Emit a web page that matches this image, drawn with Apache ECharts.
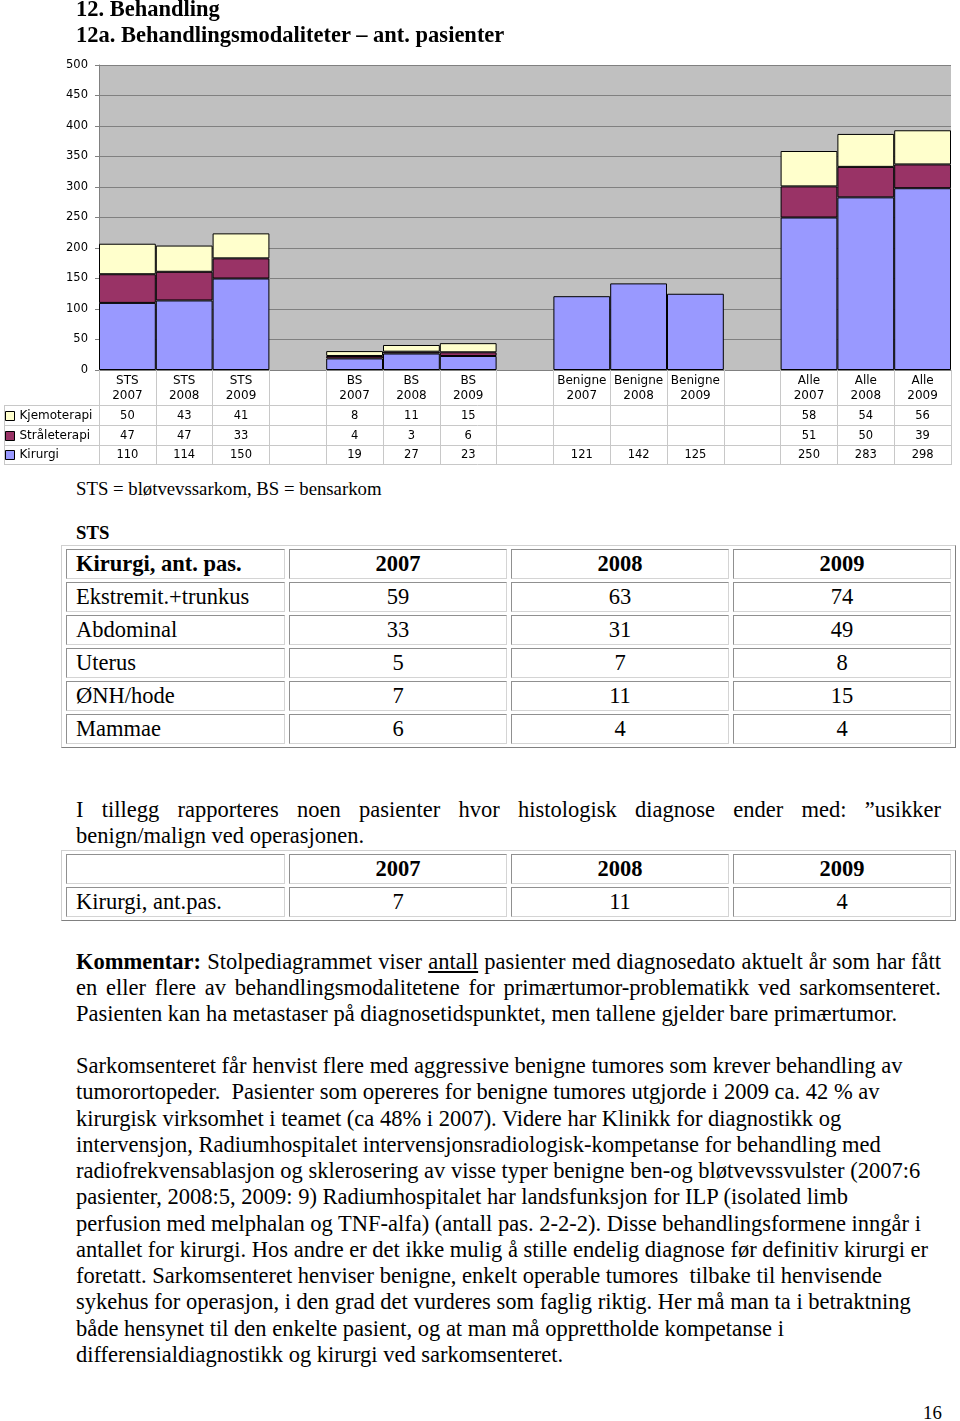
<!DOCTYPE html>
<html><head><meta charset="utf-8">
<script src="https://cdn.jsdelivr.net/npm/echarts@6/dist/echarts.min.js"></script>
<style>
html,body{margin:0;padding:0;background:#fff;}
#page{position:relative;width:960px;height:1421px;overflow:hidden;font-family:"Liberation Serif","Times New Roman",serif;color:#000;}
#chart{position:absolute;left:0;top:0;width:960px;height:470px;}
.t{position:absolute;left:76px;font-size:22.5px;line-height:26px;white-space:pre;}
.j{width:865px;text-align:justify;text-align-last:justify;white-space:normal;}
.s{position:absolute;left:76px;font-size:18.75px;line-height:22px;white-space:pre;}
.b{font-weight:bold;}
table.w{position:absolute;left:61px;width:895px;table-layout:fixed;border-collapse:separate;border-spacing:4px 3px;border:1px solid;border-color:#d0d0d0 #808080 #808080 #d0d0d0;font-size:22.5px;}
table.w td{border:1px solid;border-color:#909090 #d4d4d4 #d4d4d4 #909090;padding:0;text-align:center;vertical-align:middle;white-space:nowrap;}
table.w td.l{text-align:left;padding-left:9px;}
table.w tr{height:30px;}
.p2{line-height:26.27px;}
</style>
</head>
<body>
<div id="page">
  <div id="chart"></div>
  <div class="t b" style="top:-4px">12. Behandling</div>
  <div class="t b" style="top:22px">12a. Behandlingsmodaliteter – ant. pasienter</div>
  <div class="s" style="top:478px">STS = bløtvevssarkom, BS = bensarkom</div>
  <div class="s b" style="top:522px">STS</div>
  <table class="w" id="tab1" style="top:545px"><colgroup><col style="width:219px"><col style="width:218px"><col style="width:218px"><col style="width:218px"></colgroup><tbody></tbody></table>
  <div class="t j" style="top:797px">I tillegg rapporteres noen pasienter hvor histologisk diagnose ender med: ”usikker</div>
  <div class="t" style="top:823px">benign/malign ved operasjonen.</div>
  <table class="w" id="tab2" style="top:850px"><colgroup><col style="width:219px"><col style="width:218px"><col style="width:218px"><col style="width:218px"></colgroup><tbody></tbody></table>
  <div class="t j" style="top:949px"><b>Kommentar:</b> Stolpediagrammet viser <u>antall</u> pasienter med diagnosedato aktuelt år som har fått</div>
  <div class="t j" style="top:975px">en eller flere av behandlingsmodalitetene for primærtumor-problematikk ved sarkomsenteret.</div>
  <div class="t" style="top:1001px">Pasienten kan ha metastaser på diagnosetidspunktet, men tallene gjelder bare primærtumor.</div>
  <div class="t p2" style="top:1053px">Sarkomsenteret får henvist flere med aggressive benigne tumores som krever behandling av
tumorortopeder.  Pasienter som opereres for benigne tumores utgjorde i 2009 ca. 42 % av
kirurgisk virksomhet i teamet (ca 48% i 2007). Videre har Klinikk for diagnostikk og
intervensjon, Radiumhospitalet intervensjonsradiologisk-kompetanse for behandling med
radiofrekvensablasjon og sklerosering av visse typer benigne ben-og bløtvevssvulster (2007:6
pasienter, 2008:5, 2009: 9) Radiumhospitalet har landsfunksjon for ILP (isolated limb
perfusion med melphalan og TNF-alfa) (antall pas. 2-2-2). Disse behandlingsformene inngår i
antallet for kirurgi. Hos andre er det ikke mulig å stille endelig diagnose før definitiv kirurgi er
foretatt. Sarkomsenteret henviser benigne, enkelt operable tumores  tilbake til henvisende
sykehus for operasjon, i den grad det vurderes som faglig riktig. Her må man ta i betraktning
både hensynet til den enkelte pasient, og at man må opprettholde kompetanse i
differensialdiagnostikk og kirurgi ved sarkomsenteret.</div>
  <div class="s" style="top:1402px;left:923px">16</div>
</div>
<script>
// ---- chart data ----
const categories = ['STS\n2007','STS\n2008','STS\n2009','','BS\n2007','BS\n2008','BS\n2009','','Benigne\n2007','Benigne\n2008','Benigne\n2009','','Alle\n2007','Alle\n2008','Alle\n2009'];
const seriesNames = ['Kjemoterapi','Stråleterapi','Kirurgi'];
const kjemoterapi   = [50, 43, 41, null, 8, 11, 15, null, null, null, null, null, 58, 54, 56];
const straaleterapi = [47, 47, 33, null, 4, 3, 6, null, null, null, null, null, 51, 50, 39];
const kirurgi       = [110, 114, 150, null, 19, 27, 23, null, 121, 142, 125, null, 250, 283, 298];
const yMin = 0, yMax = 500, yStep = 50;

// ---- table data ----
const tableYears = ['2007','2008','2009'];
const stsHeader = 'Kirurgi, ant. pas.';
const stsRowLabels = ['Ekstremit.+trunkus','Abdominal','Uterus','ØNH/hode','Mammae'];
const stsEkstremit = [59, 63, 74];
const stsAbdominal = [33, 31, 49];
const stsUterus = [5, 7, 8];
const stsOenh = [7, 11, 15];
const stsMammae = [6, 4, 4];
const usikkerLabel = 'Kirurgi, ant.pas.';
const usikkerValues = [7, 11, 4];

function buildTable(id, header, labels, rows) {
  const tb = document.querySelector('#' + id + ' tbody');
  let h = '<tr><td class="l b">' + header + '</td>' + tableYears.map(y => '<td class="b">' + y + '</td>').join('') + '</tr>';
  labels.forEach((lab, i) => {
    h += '<tr><td class="l">' + lab + '</td>' + rows[i].map(v => '<td>' + v + '</td>').join('') + '</tr>';
  });
  tb.innerHTML = h;
}
buildTable('tab1', stsHeader, stsRowLabels, [stsEkstremit, stsAbdominal, stsUterus, stsOenh, stsMammae]);
buildTable('tab2', '', [usikkerLabel], [usikkerValues]);

// ---- chart ----
const FONT = 'DejaVu Sans';
const colors = {Kjemoterapi:'#FFFFCC', 'Stråleterapi':'#993366', Kirurgi:'#9999FF'};
const fmt = arr => arr.map(v => v == null ? '' : String(v));
const rowCenters = [46, 66, 85];          // offsets below the axis (style)
const rowValues = [kjemoterapi, straaleterapi, kirurgi];
const gridLine = '#c8c8c8';

const chart = echarts.init(document.getElementById('chart'));
const valueAxes = rowValues.map((arr, i) => ({
  type: 'category', data: fmt(arr), position: 'bottom', offset: rowCenters[i],
  axisLine: {show: false}, axisTick: {show: false}, splitLine: {show: false},
  axisLabel: {interval: 0, margin: 0, verticalAlign: 'middle', fontSize: 11.5, fontFamily: FONT, color: '#000'}
}));
const legends = seriesNames.map((name, i) => ({
  data: [name], left: 5, top: 370 + rowCenters[i] - 7, padding: 0, selectedMode: false,
  icon: 'rect', itemWidth: 9, itemHeight: 9, itemGap: 0,
  itemStyle: {borderColor: '#000', borderWidth: 1},
  textStyle: {fontFamily: FONT, fontSize: 12, color: '#000', lineHeight: 14}
}));
const mk = (name, data) => ({
  name, type: 'bar', stack: 'tot', data, barCategoryGap: '0%', xAxisIndex: 0,
  itemStyle: {color: colors[name], borderColor: '#000', borderWidth: 1}
});
const hl = y => ({type: 'line', silent: true, shape: {x1: 4, y1: y + 0.5, x2: 951, y2: y + 0.5}, style: {stroke: gridLine, lineWidth: 1}});
chart.setOption({
  animation: false,
  textStyle: {fontFamily: FONT},
  grid: {left: 99, right: 9, top: 65, bottom: 100, show: true, backgroundColor: '#c0c0c0', borderWidth: 0},
  legend: legends,
  xAxis: [{
    type: 'category', data: categories,
    axisLine: {lineStyle: {color: '#808080'}},
    axisTick: {show: true, interval: 0, length: 95, lineStyle: {color: gridLine}},
    axisLabel: {interval: 0, margin: 3, fontSize: 12, lineHeight: 15, fontFamily: FONT, color: '#000'}
  }].concat(valueAxes),
  yAxis: {
    type: 'value', min: yMin, max: yMax, interval: yStep,
    axisLine: {show: true, lineStyle: {color: '#808080'}},
    axisTick: {show: true, length: 4, lineStyle: {color: '#808080'}},
    axisLabel: {margin: 11, fontSize: 11.5, fontFamily: FONT, color: '#000'},
    splitLine: {lineStyle: {color: '#808080'}}
  },
  graphic: [hl(405), hl(425), hl(445), hl(464),
    {type: 'line', silent: true, shape: {x1: 4.5, y1: 405.5, x2: 4.5, y2: 464.5}, style: {stroke: gridLine, lineWidth: 1}}],
  series: [mk('Kirurgi', kirurgi), mk('Stråleterapi', straaleterapi), mk('Kjemoterapi', kjemoterapi)]
});
</script>
</body></html>
